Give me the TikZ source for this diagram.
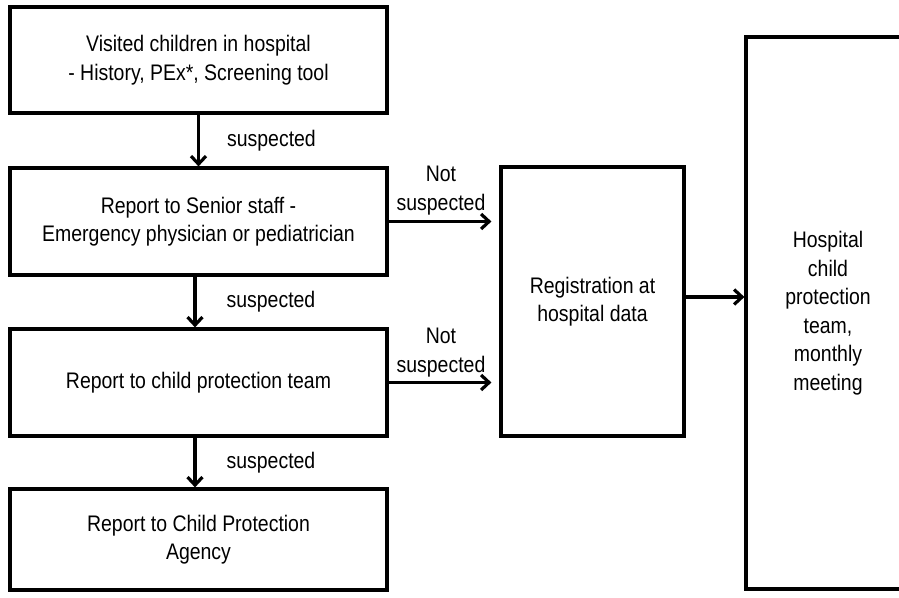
\documentclass[tikz,border=0pt]{standalone}
\usepackage{fontspec}
\setmainfont{Liberation Sans}[FakeStretch=0.865]
\usetikzlibrary{arrows.meta}
\begin{document}
\begin{tikzpicture}[x=1pt,y=1pt,
  box/.style={draw=black, line width=3.2pt, fill=white, align=center, inner sep=0pt,
    font=\fontsize{22.5}{28.5}\selectfont},
  lbl/.style={align=center, inner sep=0pt, font=\fontsize{22.5}{28.5}\selectfont},
  arr/.style={line width=3.2pt, -{Straight Barb[length=8pt,width=15pt,line width=3.2pt]}}
]
\clip (0,0) rectangle (899,-597);
\fill[white] (0,0) rectangle (899,-597);

\node[box, minimum width=377pt, minimum height=106pt] (b1) at (198.5,-60)
  {Visited children in hospital\\- History, PEx*, Screening tool};
\node[box, minimum width=377pt, minimum height=107pt] (b2) at (198.5,-221.5)
  {Report to Senior staff -\\Emergency physician or pediatrician};
\node[box, minimum width=377pt, minimum height=107pt] (b3) at (198.5,-382.5)
  {Report to child protection team};
\node[box, minimum width=377pt, minimum height=101pt] (b4) at (198.5,-539.5)
  {Report to Child Protection\\Agency};
\node[box, minimum width=183pt, minimum height=269pt] (reg) at (592.5,-301.5)
  {Registration at\\hospital data};
\node[box, minimum width=164pt, minimum height=552pt] (big) at (828,-313)
  {Hospital\\child\\protection\\team,\\monthly\\meeting};

\draw[arr] (b1.south) -- node[lbl, anchor=west, xshift=27pt] {suspected} (b2.north);
\draw[arr] ([xshift=-3.5pt]b2.south) -- node[lbl, anchor=west, xshift=30pt] {suspected} ([xshift=-3.5pt]b3.north);
\draw[arr] ([xshift=-3.5pt]b3.south) -- node[lbl, anchor=west, xshift=30pt] {suspected} ([xshift=-3.5pt]b4.north);

\draw[arr, shorten >=8pt] (b2.east) -- node[lbl, yshift=31pt, xshift=-3pt] {Not\\suspected} (b2.east -| reg.west);
\draw[arr, shorten >=8pt] (b3.east) -- node[lbl, yshift=30pt, xshift=-3pt] {Not\\suspected} (b3.east -| reg.west);
\draw[arr] ([yshift=4.5pt]reg.east) -- ([yshift=4.5pt]reg.east -| big.west);
\end{tikzpicture}
\end{document}
